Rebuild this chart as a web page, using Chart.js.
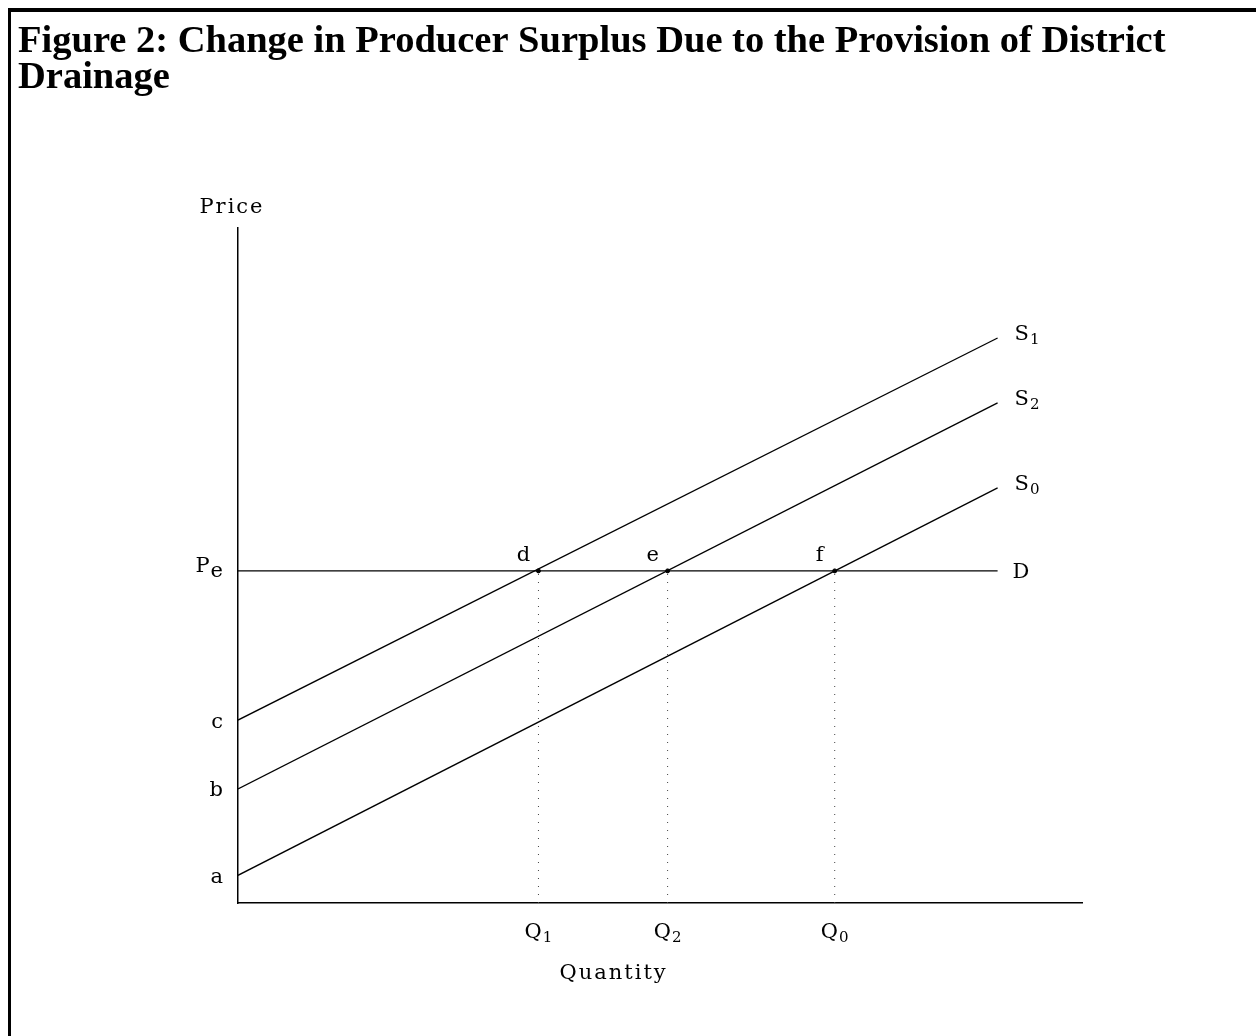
<!DOCTYPE html>
<html>
<head>
<meta charset="utf-8">
<script src="https://cdn.jsdelivr.net/npm/chart.js@4/dist/chart.umd.min.js"></script>
<style>
  html, body { margin: 0; padding: 0; background: #fff; }
  #wrap { width: 1256px; height: 1036px; position: relative; }
</style>
</head>
<body>
<div id="wrap"><canvas id="surplusChart" width="1256" height="1036"></canvas></div>
<script>
// Supply curves (price at q = 0 and at the right end); first char is the letter, rest the subscript
const supplyNames = ['S1', 'S2', 'S0'];
const supplyStart = [27.1, 16.9, 4.1];
const supplyEnd = [83.7, 74.1, 61.5];
const qEnd = 90;

// Demand (flat at the equilibrium price)
const priceE = 49.2;

// Equilibrium quantities and intersection names
const qValues = [35.6, 50.9, 70.7];
const qLabels = ['Q1', 'Q2', 'Q0'];
const pointNames = ['d', 'e', 'f'];

// Price axis ticks
const priceTicks = [4.1, 16.9, 27.1, 49.2];
const priceLabels = ['a', 'b', 'c', 'Pe'];

const labelFont = '21px "DejaVu Serif"';
const digitFont = '15px "DejaVu Serif"';

const datasets = [];
supplyNames.forEach((name, i) => {
    datasets.push({
        label: name,
        data: [{ x: 0, y: supplyStart[i] }, { x: qEnd, y: supplyEnd[i] }],
        borderColor: '#000',
        borderWidth: 1.3,
        pointRadius: 0,
        showLine: true
    });
});
datasets.push({
    label: 'D',
    data: [{ x: 0, y: priceE }, { x: qEnd, y: priceE }],
    borderColor: '#000',
    borderWidth: 1.3,
    pointRadius: 0,
    showLine: true
});
qValues.forEach((q, i) => {
    datasets.push({
        label: 'guide ' + qLabels[i],
        data: [{ x: q, y: 0 }, { x: q, y: priceE }],
        borderColor: '#444',
        borderWidth: 1,
        borderDash: [1, 7],
        pointRadius: 0,
        showLine: true
    });
});
datasets.push({
    label: 'intersections',
    data: qValues.map(q => ({ x: q, y: priceE })),
    backgroundColor: '#000',
    borderColor: '#000',
    pointRadius: 2,
    showLine: false
});

// letter + lowered subscript, y is the baseline of the letter
function drawSub(ctx, text, x, y, align) {
    const main = text[0], sub = text.slice(1);
    const subFont = /\d/.test(sub) ? digitFont : labelFont;
    const drop = /\d/.test(sub) ? 4 : 5;
    ctx.font = labelFont;
    const mw = ctx.measureText(main).width;
    ctx.font = subFont;
    const sw = sub ? ctx.measureText(sub).width + 1 : 0;
    const total = mw + sw;
    let x0 = x;
    if (align === 'center') x0 = x - total / 2;
    if (align === 'right') x0 = x - total;
    ctx.textAlign = 'left';
    ctx.textBaseline = 'alphabetic';
    ctx.font = labelFont;
    ctx.fillText(main, x0, y);
    if (sub) {
        ctx.font = subFont;
        ctx.fillText(sub, x0 + mw + 1, y + drop);
    }
}

const annotate = {
    id: 'annotate',
    afterDatasetsDraw(chart) {
        const { ctx, scales: { x, y } } = chart;
        ctx.save();
        ctx.fillStyle = '#000';
        // tick labels, placed by the scales
        x.ticks.forEach((t, i) => {
            drawSub(ctx, qLabels[i], x.getPixelForValue(t.value), x.top + 35, 'center');
        });
        y.ticks.forEach((t, i) => {
            const lab = priceLabels[i];
            const base = y.getPixelForValue(t.value) + (lab.length > 1 ? 1 : 7.5);
            drawSub(ctx, lab, y.right - 15, base, 'right');
        });
        // curve names
        supplyNames.forEach((name, i) => {
            drawSub(ctx, name, x.getPixelForValue(qEnd) + 17, y.getPixelForValue(supplyEnd[i]) + 2, 'left');
        });
        drawSub(ctx, 'D', x.getPixelForValue(qEnd) + 15, y.getPixelForValue(priceE) + 7.5, 'left');
        ctx.font = labelFont;
        ctx.textBaseline = 'middle';
        ctx.textAlign = 'center';
        pointNames.forEach((n, i) => {
            ctx.fillText(n, x.getPixelForValue(qValues[i]) - 15, y.getPixelForValue(priceE) - 15);
        });
        // axis names
        ctx.letterSpacing = '2px';
        ctx.fillText('Price', x.left - 6, y.top - 20);
        ctx.fillText('Quantity', x.getPixelForValue(44.5), chart.chartArea.bottom + 71);
        ctx.restore();
    },
    afterDraw(chart) {
        const ctx = chart.ctx;
        ctx.save();
        ctx.fillStyle = '#000';
        ctx.fillRect(8, 8, 1248, 4);
        ctx.fillRect(8, 8, 3, 1028);
        ctx.restore();
    }
};

new Chart(document.getElementById('surplusChart'), {
    type: 'scatter',
    data: { datasets },
    options: {
        responsive: false,
        animation: false,
        layout: { padding: { left: 18, right: 10, top: 0, bottom: 0 } },
        plugins: {
            legend: { display: false },
            tooltip: { enabled: false },
            title: {
                display: true,
                text: ['Figure 2: Change in Producer Surplus Due to the Provision of District', 'Drainage'],
                align: 'start',
                color: '#000',
                font: { family: '"Liberation Serif"', size: 38.5, weight: 'bold', lineHeight: 0.93 },
                padding: { top: 24, bottom: 132.4 }
            }
        },
        scales: {
            x: {
                type: 'linear',
                min: 0,
                max: 100,
                grid: { display: false, drawTicks: false },
                border: { display: true, color: '#000', width: 1.5 },
                afterBuildTicks: scale => { scale.ticks = qValues.map(v => ({ value: v })); },
                afterFit: scale => { scale.height = 133; },
                ticks: { display: false }
            },
            y: {
                type: 'linear',
                min: 0,
                max: 100,
                grid: { display: false, drawTicks: false },
                border: { display: true, color: '#000', width: 1.5 },
                afterBuildTicks: scale => { scale.ticks = priceTicks.map(v => ({ value: v })); },
                afterFit: scale => { scale.width = 220; },
                ticks: { display: false }
            },
            // empty spacer on the right so the plot ends where the reference's axis ends
            spacer: {
                type: 'linear',
                position: 'right',
                grid: { display: false, drawTicks: false },
                border: { display: false },
                ticks: { display: false },
                afterFit: scale => { scale.width = 164; }
            }
        }
    },
    plugins: [annotate]
});
</script>
</body>
</html>
